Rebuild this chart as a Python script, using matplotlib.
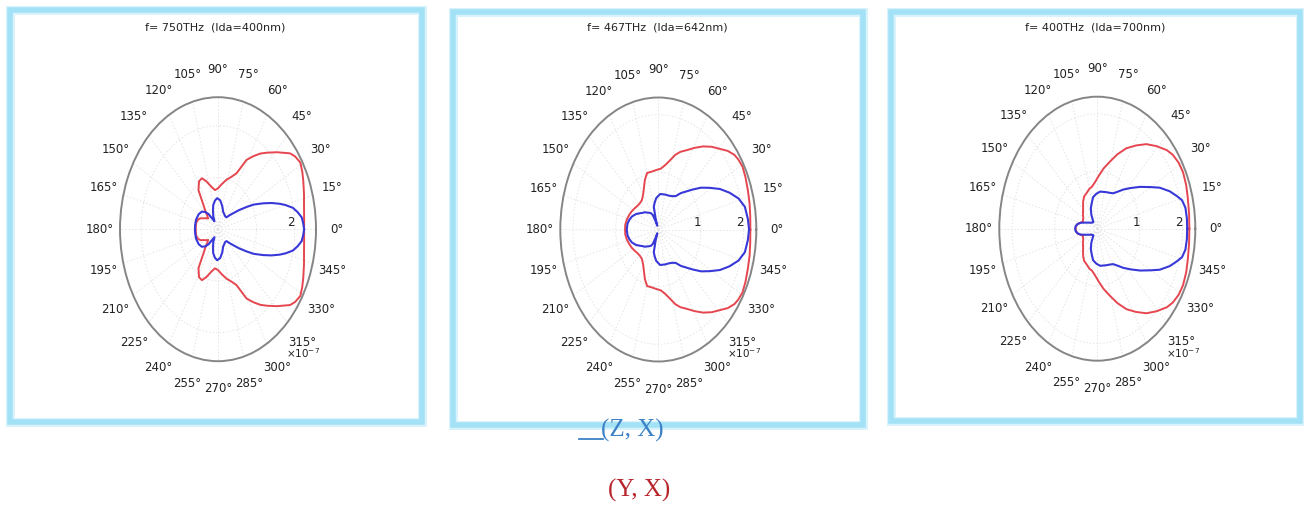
import numpy as np
import matplotlib.pyplot as plt
from matplotlib.patches import Rectangle
from matplotlib.lines import Line2D

W, H = 1304, 512

titles = ['f= 750THz  (lda=400nm)', 'f= 467THz  (lda=642nm)', 'f= 400THz  (lda=700nm)']
r_max = [2.55, 2.3, 2.3]
r_labels = [[2], [1, 2], [1, 2]]

# half patterns 0..180 deg (mirror-symmetric about 0 deg), r in units of 1e-7
# panel 1 : 750 THz
th_red_1 = [0, 5, 11, 17, 23, 27, 31, 35, 38, 44, 49, 53, 57, 61, 66, 71, 77, 84, 90, 96,
            102, 108, 113, 118, 124, 129, 133, 137, 141, 146, 150, 155, 160, 167, 174, 180]
r_red_1 = [2.24, 2.25, 2.28, 2.34, 2.41, 2.46, 2.50, 2.45, 2.38, 2.14, 1.96, 1.83, 1.68, 1.53,
           1.18, 1.07, 0.98, 0.87, 0.79, 0.76, 0.84, 0.97, 1.07, 1.05, 0.91, 0.60, 0.48, 0.38,
           0.33, 0.38, 0.42, 0.50, 0.55, 0.58, 0.58, 0.58]
th_blue_1 = [0, 3, 6, 9, 12, 15, 17, 20, 23, 27, 30, 34, 38, 42, 46, 52, 60, 68, 76, 84, 92,
             98, 105, 110, 116, 121, 125, 130, 135, 141, 150, 162, 172, 180]
r_blue_1 = [2.24, 2.22, 2.19, 2.10, 1.99, 1.81, 1.68, 1.48, 1.28, 1.05, 0.86, 0.66, 0.50, 0.40,
            0.32, 0.31, 0.33, 0.36, 0.46, 0.56, 0.60, 0.56, 0.48, 0.38, 0.28, 0.18, 0.23, 0.38,
            0.47, 0.54, 0.58, 0.60, 0.60, 0.60]

# panel 2 : 467 THz
th_red_2 = [0, 6, 12, 18, 24, 29, 33, 36, 40, 44, 49, 54, 59, 64, 69, 73, 77, 82, 87, 92, 99,
            105, 110, 114, 120, 127, 133, 140, 147, 153, 160, 167, 174, 180]
r_red_2 = [2.16, 2.17, 2.19, 2.21, 2.24, 2.26, 2.24, 2.21, 2.13, 2.02, 1.91, 1.79, 1.66, 1.54,
           1.45, 1.36, 1.24, 1.13, 1.06, 1.04, 1.02, 1.02, 0.92, 0.82, 0.71, 0.64, 0.63, 0.64,
           0.67, 0.70, 0.73, 0.76, 0.78, 0.78]
th_blue_2 = [0, 5, 11, 16, 21, 26, 31, 36, 41, 45, 50, 55, 60, 67, 75, 86, 95, 100, 105, 108,
             110, 113, 117, 121, 126, 131, 137, 142, 147, 153, 160, 166, 172, 180]
r_blue_2 = [2.13, 2.11, 2.07, 1.96, 1.79, 1.61, 1.41, 1.24, 1.06, 0.94, 0.83, 0.71, 0.67, 0.64,
            0.63, 0.62, 0.55, 0.48, 0.41, 0.21, 0.07, 0.14, 0.28, 0.33, 0.36, 0.39, 0.44, 0.47,
            0.52, 0.59, 0.66, 0.70, 0.73, 0.74]

# panel 3 : 400 THz
th_red_3 = [0, 7, 14, 20, 26, 31, 36, 40, 46, 52, 58, 64, 70, 76, 82, 88, 94, 100, 105, 112,
            119, 125, 130, 135, 140, 145, 150, 155, 160, 165, 170, 175, 180]
r_red_3 = [2.16, 2.17, 2.19, 2.22, 2.24, 2.23, 2.19, 2.13, 2.00, 1.87, 1.71, 1.56, 1.38, 1.20,
           1.06, 0.92, 0.81, 0.74, 0.72, 0.67, 0.64, 0.58, 0.52, 0.47, 0.44, 0.41, 0.38, 0.37,
           0.36, 0.41, 0.47, 0.50, 0.51]
th_blue_3 = [0, 5, 10, 14, 17, 21, 26, 30, 36, 42, 48, 53, 59, 65, 72, 84, 92, 100, 106, 113,
             120, 128, 135, 140, 145, 150, 155, 160, 165, 170, 175, 180]
r_blue_3 = [2.11, 2.11, 2.10, 2.05, 1.95, 1.82, 1.63, 1.45, 1.24, 1.06, 0.92, 0.81, 0.72, 0.69,
            0.67, 0.65, 0.61, 0.56, 0.47, 0.39, 0.28, 0.15, 0.15, 0.17, 0.18, 0.21, 0.25, 0.31,
            0.40, 0.47, 0.51, 0.52]

red_th = [th_red_1, th_red_2, th_red_3]
red_r = [r_red_1, r_red_2, r_red_3]
blue_th = [th_blue_1, th_blue_2, th_blue_3]
blue_r = [r_blue_1, r_blue_2, r_blue_3]


def full_turn(th, r):
    th = np.array(th, float)
    r = np.array(r, float)
    th_all = np.concatenate([th, 360 - th[::-1][1:]])
    r_all = np.concatenate([r, r[::-1][1:]])
    return np.deg2rad(th_all), r_all


# layout in pixels
boxes = [(9.5, 9.5, 421.5, 422), (453, 12, 863, 425), (891, 12, 1300, 421)]
centers = [(218, 229.2), (658.3, 229.5), (1097.3, 228.7)]
half_w, half_h = 98, 132
title_x = [215, 657, 1095]

fig = plt.figure(figsize=(W / 100, H / 100), dpi=100)

for x0, y0, x1, y1 in boxes:
    for lw, col in [(9, '#d8f3fc'), (5.5, '#a3e1f6')]:
        fig.add_artist(Rectangle((x0 / W, 1 - y1 / H), (x1 - x0) / W, (y1 - y0) / H,
                                 transform=fig.transFigure, fill=False,
                                 lw=lw * 0.72, ec=col))

red_col = '#e5464f'
blue_col = '#3838d8'

for i in range(3):
    cx, cy = centers[i]
    ax = fig.add_axes([(cx - half_w) / W, 1 - (cy + half_h) / H, 2 * half_w / W, 2 * half_h / H],
                      projection='polar')
    ax.set_aspect('auto')
    R = r_max[i]
    ax.set_ylim(0, R)
    ax.set_xticks(np.deg2rad(np.arange(0, 360, 15)))
    ax.set_xticklabels([])
    ax.set_yticks([1, 2])
    ax.set_yticklabels([])
    ax.grid(color='#e4e4e4', lw=0.7, ls=(0, (1.5, 2)))
    ax.spines['polar'].set_color('#858585')
    ax.spines['polar'].set_linewidth(1.4)

    t, r = full_turn(red_th[i], red_r[i])
    ax.plot(t, r, color=red_col, lw=1.4, solid_joinstyle='round')
    t, r = full_turn(blue_th[i], blue_r[i])
    ax.plot(t, r, color=blue_col, lw=1.5, solid_joinstyle='round')

    for d in range(0, 360, 15):
        ax.text(np.deg2rad(d), 1.21 * R, f'{d}°', ha='center', va='center',
                fontsize=8.5, color='#222222', clip_on=False)
    for rl in r_labels[i]:
        ax.text(0, rl, str(rl), ha='right', va='bottom', fontsize=8.5, color='#222222')
    ax.text(0.935, 0.03, r'$\times10^{-7}$', transform=ax.transAxes, ha='center',
            va='center', fontsize=7.5, color='#222222')

    fig.text(title_x[i] / W, 1 - 27 / H, titles[i], ha='center', va='center',
             fontsize=8, color='#222222')

fig.add_artist(Line2D([579 / W, 603 / W], [1 - 439 / H, 1 - 439 / H],
                      transform=fig.transFigure, color='#3d82c6', lw=1.3))
fig.text(632 / W, 1 - 430 / H, '(Z, X)', ha='center', va='center', fontsize=18,
         family='Liberation Serif', color='#3d82c6')
fig.text(639 / W, 1 - 490 / H, '(Y, X)', ha='center', va='center', fontsize=18,
         family='Liberation Serif', color='#b8242b')

fig.savefig('out.png', dpi=100)
